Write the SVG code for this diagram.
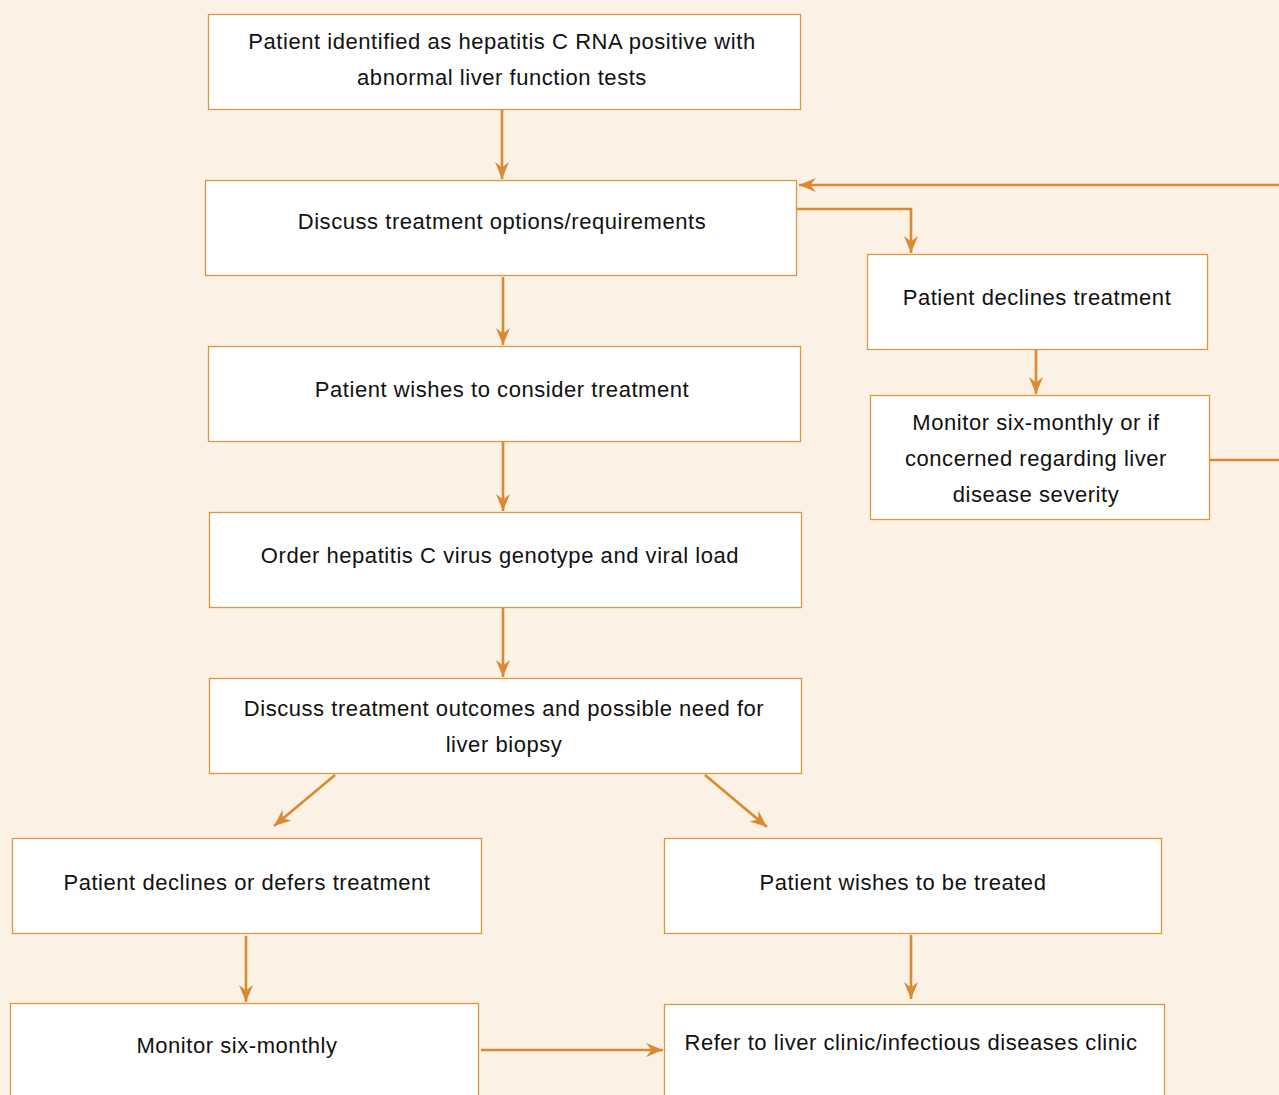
<svg xmlns="http://www.w3.org/2000/svg" width="1279" height="1095" viewBox="0 0 1279 1095">
<style>
.box{fill:#ffffff;stroke:#DE9645;stroke-width:1.3}
.t{font-family:"Liberation Sans",Arial,sans-serif;font-size:22px;letter-spacing:0.55px;fill:#111111;text-anchor:middle}
.c{fill:none;stroke:#D98A33;stroke-width:2.6}
</style>
<defs>
<marker id="ah" markerUnits="userSpaceOnUse" viewBox="-18 -8 19 16" refX="0" refY="0" markerWidth="19" markerHeight="16" orient="auto">
<path d="M0,0 L-17,-7 L-11.5,0 L-17,7 Z" fill="#D98A33"/>
</marker>
</defs>
<rect width="1279" height="1095" fill="#FBF1E4"/>
<g id="n1"><rect class="box" x="208.5" y="14.5" width="592" height="95"/><text class="t" x="502" y="49">Patient identified as hepatitis C RNA positive with</text><text class="t" x="502" y="85">abnormal liver function tests</text></g>
<g id="n2"><rect class="box" x="205.5" y="180.5" width="591" height="95"/><text class="t" x="502" y="229">Discuss treatment options/requirements</text></g>
<g id="n3"><rect class="box" x="208.5" y="346.5" width="592" height="95"/><text class="t" x="502" y="397">Patient wishes to consider treatment</text></g>
<g id="n4"><rect class="box" x="209.5" y="512.5" width="592" height="95"/><text class="t" x="500" y="563">Order hepatitis C virus genotype and viral load</text></g>
<g id="n5"><rect class="box" x="209.5" y="678.5" width="592" height="95"/><text class="t" x="504" y="716">Discuss treatment outcomes and possible need for</text><text class="t" x="504" y="752">liver biopsy</text></g>
<g id="n6"><rect class="box" x="867.5" y="254.5" width="340" height="95"/><text class="t" x="1037" y="305">Patient declines treatment</text></g>
<g id="n7"><rect class="box" x="870.5" y="395.5" width="339" height="124"/><text class="t" x="1036" y="430">Monitor six-monthly or if</text><text class="t" x="1036" y="466">concerned regarding liver</text><text class="t" x="1036" y="502">disease severity</text></g>
<g id="n8"><rect class="box" x="12.5" y="838.5" width="469" height="95"/><text class="t" x="247" y="890">Patient declines or defers treatment</text></g>
<g id="n9"><rect class="box" x="664.5" y="838.5" width="497" height="95"/><text class="t" x="903" y="890">Patient wishes to be treated</text></g>
<g id="n10"><rect class="box" x="10.5" y="1003.5" width="468" height="110"/><text class="t" x="237" y="1053">Monitor six-monthly</text></g>
<g id="n11"><rect class="box" x="664.5" y="1004.5" width="500" height="110"/><text class="t" x="911" y="1050">Refer to liver clinic/infectious diseases clinic</text></g>
<g id="connectors">
<path class="c" d="M502,110 L502,179" marker-end="url(#ah)"/>
<path class="c" d="M503,277 L503,345" marker-end="url(#ah)"/>
<path class="c" d="M503,442 L503,511" marker-end="url(#ah)"/>
<path class="c" d="M503,608 L503,677" marker-end="url(#ah)"/>
<path class="c" d="M797,209 L911,209 L911,253" marker-end="url(#ah)"/>
<path class="c" d="M1036,350 L1036,394" marker-end="url(#ah)"/>
<path class="c" d="M1210,460 L1279,460"/>
<path class="c" d="M1279,185 L799,185" marker-end="url(#ah)"/>
<path class="c" d="M335,775 L274,826" marker-end="url(#ah)"/>
<path class="c" d="M705,775 L767,827" marker-end="url(#ah)"/>
<path class="c" d="M246,936 L246,1002" marker-end="url(#ah)"/>
<path class="c" d="M911,935 L911,999" marker-end="url(#ah)"/>
<path class="c" d="M481,1050 L663,1050" marker-end="url(#ah)"/>
</g>
</svg>
